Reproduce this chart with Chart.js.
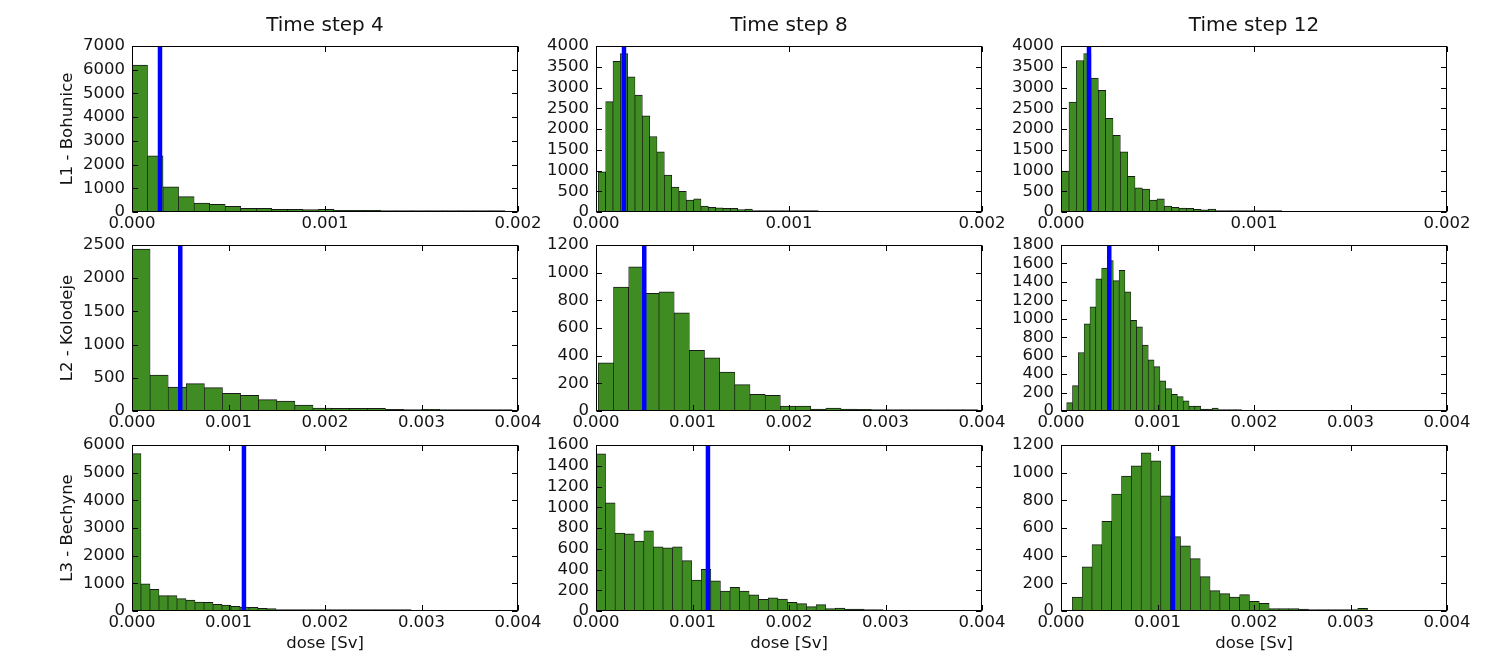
<!DOCTYPE html>
<html>
<head>
<meta charset="utf-8">
<script src="https://cdn.jsdelivr.net/npm/chart.js@4.4.1/dist/chart.umd.min.js"></script>
<style>
  body { margin: 0; background: #fff; width: 1504px; height: 664px; overflow: hidden; position: relative; }
  .panel { position: absolute; }
</style>
</head>
<body>
<script>
// textos
const titles = ["Time step 4", "Time step 8", "Time step 12"];
const rowLabels = ["L1 - Bohunice", "L2 - Kolodeje", "L3 - Bechyne"];
const xLabel = "dose [Sv]";

// ejes
const xMax = [0.002, 0.004, 0.004];
const xStep = 0.001;
const yMax = [[7000, 4000, 4000], [2500, 1200, 1800], [6000, 1600, 1200]];
const yStep = [[1000, 500, 500], [500, 200, 200], [1000, 200, 200]];

// dosis límite (línea azul) por localidad
const limitDose = [0.000145, 0.0005, 0.00116];

// inicio y ancho de los bins de cada histograma
const binStart = [[0, 0.0000121, 0.0000035], [0, 0.0000242, 0.0000587], [0, 0, 0.000117]];
const binWidth = [[0.0000805, 0.000038, 0.000038], [0.0001876, 0.0001572, 0.0000604], [0.0000933, 0.0000992, 0.000102]];

// conteos
const countsL1T4 = [6200, 2370, 1060, 650, 380, 325, 240, 155, 155, 115, 115, 100, 110, 70, 70, 70, 20, 15, 15, 10, 10, 10, 8, 5];
const countsL1T8 = [970, 2660, 3630, 3820, 3260, 2820, 2320, 1820, 1450, 890, 600, 500, 290, 320, 140, 110, 100, 90, 90, 60, 70, 25, 25, 20, 10, 15, 10, 10, 8, 15];
const countsL1T12 = [985, 2650, 3650, 3820, 3230, 2930, 2260, 1850, 1450, 860, 580, 550, 290, 320, 140, 110, 95, 90, 65, 50, 70, 25, 25, 20, 10, 15, 10, 10, 10, 15];
const countsL2T4 = [2440, 540, 362, 412, 352, 267, 236, 171, 151, 90, 45, 40, 40, 40, 25, 10, 25, 3, 3, 2, 2];
const countsL2T8 = [348, 896, 1043, 850, 862, 710, 439, 384, 282, 191, 121, 113, 36, 36, 14, 22, 14, 12, 5, 4, 4, 4, 2, 4, 4];
const countsL2T12 = [91, 275, 634, 945, 1130, 1434, 1550, 1630, 1413, 1525, 1293, 982, 913, 714, 554, 482, 326, 243, 181, 156, 109, 54, 54, 22, 22, 33, 15, 11, 7, 7];
const countsL3T4 = [5686, 978, 785, 555, 555, 447, 398, 326, 314, 241, 217, 169, 145, 130, 97, 84, 50, 45, 40, 35, 30, 30, 25, 20, 15, 10, 25, 10, 8, 20, 5];
const countsL3T8 = [1516, 1043, 750, 744, 673, 773, 618, 608, 618, 486, 299, 402, 290, 193, 229, 193, 155, 113, 126, 116, 84, 71, 42, 61, 23, 29, 19, 19, 6, 10];
const countsL3T12 = [101, 319, 480, 649, 845, 975, 1050, 1144, 1086, 833, 538, 471, 379, 249, 147, 126, 101, 118, 70, 56, 17, 17, 17, 14, 10, 5, 5, 5, 10, 19];

const counts = [
  [countsL1T4, countsL1T8, countsL1T12],
  [countsL2T4, countsL2T8, countsL2T12],
  [countsL3T4, countsL3T8, countsL3T12]
];

// posición de cada área de gráfico en la página
const plotLeft = [132, 596, 1061];
const plotTop = [46, 245, 445];
const plotW = 386, plotH = 166;
const M_L = 130, M_R = 40, M_T = 46, M_B = 55;

const FONT = "'DejaVu Sans', sans-serif";
const TEXT = '#141414';
Chart.defaults.font.family = FONT;
Chart.defaults.color = TEXT;

// marco negro y ticks hacia dentro, estilo matplotlib
const framePlugin = {
  id: 'frame',
  afterDraw(chart) {
    const { ctx, chartArea: a, scales: { x, y } } = chart;
    const L = Math.round(a.left) + 0.5, R = Math.round(a.right) - 0.5;
    const T = Math.round(a.top) + 0.5, B = Math.round(a.bottom) - 0.5;
    const len = 5.5;
    ctx.save();
    ctx.strokeStyle = '#000';
    ctx.lineWidth = 1;
    ctx.beginPath();
    x.ticks.forEach(t => {
      const px = Math.round(x.getPixelForValue(t.value)) + 0.5;
      ctx.moveTo(px, B); ctx.lineTo(px, B - len);
      ctx.moveTo(px, T); ctx.lineTo(px, T + len);
    });
    y.ticks.forEach(t => {
      const py = Math.round(y.getPixelForValue(t.value)) + 0.5;
      ctx.moveTo(L, py); ctx.lineTo(L + len, py);
      ctx.moveTo(R, py); ctx.lineTo(R - len, py);
    });
    ctx.stroke();
    ctx.strokeRect(L, T, R - L, B - T);
    ctx.restore();
  }
};

function makePanel(r, c) {
  const w = plotW + M_L + M_R, h = plotH + M_T + M_B;
  const div = document.createElement('div');
  div.className = 'panel';
  div.style.left = (plotLeft[c] - M_L) + 'px';
  div.style.top = (plotTop[r] - M_T) + 'px';
  const canvas = document.createElement('canvas');
  canvas.width = w; canvas.height = h;
  canvas.style.width = w + 'px'; canvas.style.height = h + 'px';
  div.appendChild(canvas);
  document.body.appendChild(div);

  const start = binStart[r][c], bw = binWidth[r][c];
  const bars = counts[r][c].map((n, i) => ({ x: start + (i + 0.5) * bw, y: n }));
  const top = yMax[r][c];

  new Chart(canvas.getContext('2d'), {
    type: 'bar',
    data: {
      datasets: [
        {
          type: 'line',
          data: [{ x: limitDose[r], y: 0 }, { x: limitDose[r], y: top }],
          borderColor: '#0000ff',
          borderWidth: 4.5,
          pointRadius: 0,
          order: 0
        },
        {
          type: 'bar',
          data: bars,
          backgroundColor: 'rgb(62,140,34)',
          borderColor: 'rgba(0,0,0,0.9)',
          borderWidth: { top: 1, left: 0.65, right: 0.65, bottom: 0 },
          borderSkipped: false,
          minBarLength: 1.5,
          barPercentage: 1,
          categoryPercentage: 1,
          grouped: false,
          order: 1
        }
      ]
    },
    options: {
      responsive: false,
      animation: false,
      events: [],
      layout: { padding: { left: 0, right: M_R, top: r === 0 ? 0 : M_T, bottom: 0 } },
      plugins: {
        legend: { display: false },
        tooltip: { enabled: false },
        title: {
          display: r === 0,
          fullSize: false,
          text: titles[c],
          color: TEXT,
          font: { family: FONT, size: 20, weight: 'normal' },
          padding: { top: 14, bottom: 8 }
        }
      },
      scales: {
        x: {
          type: 'linear',
          min: 0,
          max: xMax[r],
          offset: false,
          grid: { display: false, drawTicks: false, offset: false },
          border: { display: false },
          ticks: {
            stepSize: xStep,
            autoSkip: false,
            maxRotation: 0,
            padding: 1.5,
            color: TEXT,
            font: { size: 16.5 },
            callback: v => Number(v).toFixed(3)
          },
          title: {
            display: r === 2,
            text: xLabel,
            color: TEXT,
            font: { size: 16.5 },
            padding: { top: 0, bottom: 12.5 }
          },
          afterFit: s => { s.height = M_B; }
        },
        y: {
          min: 0,
          max: top,
          grid: { display: false, drawTicks: false },
          border: { display: false },
          ticks: {
            stepSize: yStep[r][c],
            autoSkip: false,
            padding: 7,
            color: TEXT,
            font: { size: 16.5 },
            callback: v => String(Math.round(v))
          },
          title: {
            display: c === 0,
            text: rowLabels[r],
            color: TEXT,
            font: { size: 16.5 },
            padding: { top: 55.5, bottom: 0 }
          },
          afterFit: s => { s.width = M_L; }
        }
      }
    },
    plugins: [framePlugin]
  });
}

for (let r = 0; r < 3; r++) {
  for (let c = 0; c < 3; c++) {
    makePanel(r, c);
  }
}
</script>
</body>
</html>
